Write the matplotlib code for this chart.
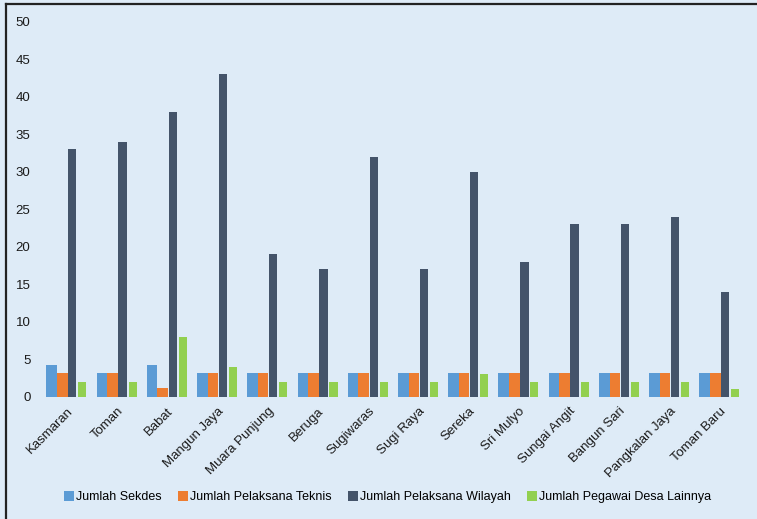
import numpy as np
import matplotlib; matplotlib.use("Agg")
import matplotlib.pyplot as plt

plt.rcParams["font.family"] = "Liberation Sans"

desa = ["Kasmaran", "Toman", "Babat", "Mangun Jaya", "Muara Punjung", "Beruga", "Sugiwaras",
        "Sugi Raya", "Sereka", "Sri Mulyo", "Sungai Angit", "Bangun Sari", "Pangkalan Jaya", "Toman Baru"]
sekdes = [4.2, 3.2, 4.2, 3.2, 3.2, 3.2, 3.2, 3.2, 3.2, 3.2, 3.2, 3.2, 3.2, 3.2]
teknis = [3.2, 3.2, 1.2, 3.2, 3.2, 3.2, 3.2, 3.2, 3.2, 3.2, 3.2, 3.2, 3.2, 3.2]
wilayah = [33, 34, 38, 43, 19, 17, 32, 17, 30, 18, 23, 23, 24, 14]
lainnya = [2, 2, 8, 4, 2, 2, 2, 2, 3, 2, 2, 2, 2, 1]

series = [("Jumlah Sekdes", sekdes, "#5b9bd5", -0.30, 0.21),
          ("Jumlah Pelaksana Teknis", teknis, "#ed7d31", -0.09, 0.21),
          ("Jumlah Pelaksana Wilayah", wilayah, "#44546a", 0.11, 0.165),
          ("Jumlah Pegawai Desa Lainnya", lainnya, "#92d050", 0.31, 0.16)]

bg = "#deebf7"
fig = plt.figure(figsize=(7.57, 5.19), dpi=100, facecolor=bg)
ax = fig.add_axes([0.055, 0.2356, 0.929, 0.7224], facecolor=bg)
x = np.arange(len(desa))
for lab, vals, col, off, w in series:
    ax.bar(x + off, vals, width=w, color=col, label=lab)

ax.set_ylim(0, 50)
ax.set_yticks(range(0, 51, 5))
ax.set_xlim(-0.5, len(desa) - 0.5)
ax.set_xticks(x)
ax.set_xticklabels(desa, rotation=45, ha="right", rotation_mode="anchor", fontsize=9.5)
ax.tick_params(length=0, labelsize=9.5, colors="#1a1a1a")
ax.tick_params(axis="y", pad=8)
ax.tick_params(axis="x", pad=6)
for s in ax.spines.values():
    s.set_visible(False)

fig.legend(loc="center", bbox_to_anchor=(0.512, 0.042), ncol=4, frameon=False, fontsize=9,
           handlelength=0.8, handleheight=0.8, handletextpad=0.15, columnspacing=1.3)

# frame line on the top and left edges only
x0, y1 = 6 / 757, 1 - 4 / 519
fig.add_artist(plt.Line2D([x0, x0], [0, y1], transform=fig.transFigure, color="#222222", lw=1.6))
fig.add_artist(plt.Line2D([x0, 1], [y1, y1], transform=fig.transFigure, color="#222222", lw=1.6))
fig.savefig("out.png", dpi=100, facecolor=bg)
